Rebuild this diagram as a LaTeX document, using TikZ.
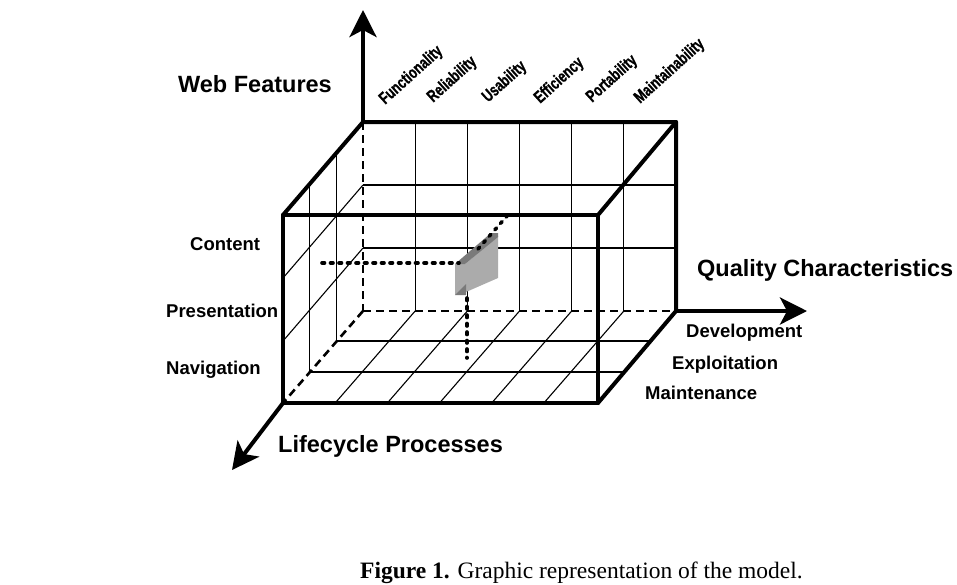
\documentclass[tikz,border=0pt]{standalone}
\usepackage{fontspec}
\setmainfont{Liberation Sans}
\newfontfamily\capfont{Liberation Serif}
\newfontfamily\colfont[BoldFeatures={FakeBold=1.2}]{Liberation Sans}
\usetikzlibrary{arrows.meta}
\newcommand\narrowtxt[1]{\scalebox{0.74}[1]{#1}}
\begin{document}
\begin{tikzpicture}[x=1pt,y=-1pt,
  thickedge/.style={line width=4pt, line cap=round, line join=round},
  dashedge/.style={line width=2.6pt, dash pattern=on 8pt off 5pt},
  gridline/.style={line width=1.1pt},
  axis/.style={line width=4pt, -{Stealth[length=27pt,width=27pt,inset=7pt]}},
  coordline/.style={line width=3.6pt, dash pattern=on 2.5pt off 6pt, line cap=round},
  biglabel/.style={font=\fontsize{23.5}{28}\selectfont\bfseries, inner sep=0pt},
  sidelabel/.style={font=\fontsize{18.5}{22}\selectfont\bfseries, inner sep=0pt, anchor=base west},
  collabel/.style={font=\colfont\fontsize{17}{20}\selectfont\bfseries, inner sep=0pt, rotate=42, anchor=base west},
  lightcell/.style={fill=black!33, draw=none},
  darkcell/.style={fill=black!52, draw=none},
]
\useasboundingbox (0,0) rectangle (957,584);
% box corners
\coordinate (FTL) at (283,215);
\coordinate (FTR) at (598,215);
\coordinate (FBL) at (283,403);
\coordinate (FBR) at (598,403);
\coordinate (BTL) at (363,122);
\coordinate (BTR) at (676,122);
\coordinate (BBL) at (363,311);
\coordinate (BBR) at (676,311);
% axis ends
\coordinate (WebTip) at (363,10);
\coordinate (QualTip) at (807,311);
\coordinate (LifeTip) at (232,470);

% back face grid
\foreach \k in {1,...,5}{
  \pgfmathsetmacro{\xx}{363+\k*52.17}
  \draw[gridline] (\xx,122) -- (\xx,311);
  \draw[gridline] (\xx,311) -- (\xx-80,403);
}
\draw[gridline] (363,185) -- (676,185);
\draw[gridline] (363,248) -- (676,248);
% left wall grid
\draw[gridline] (363,185) -- (283,278);
\draw[gridline] (363,248) -- (283,341);
\draw[gridline] (309.7,184) -- (309.7,372);
\draw[gridline] (336.3,153) -- (336.3,341);
% floor depth lines
\draw[gridline] (309.7,372) -- (624.7,372);
\draw[gridline] (336.3,341) -- (651.3,341);

% hidden edges
\draw[dashedge] (BTL) -- (BBL);
\draw[dashedge] (BBL) -- (BBR);
\draw[dashedge] (BBL) -- (FBL);

% visible edges
\draw[thickedge] (FTL) -- (FTR) -- (FBR) -- (FBL) -- cycle;
\draw[thickedge] (FTL) -- (BTL) -- (BTR) -- (BBR);
\draw[thickedge] (FTR) -- (BTR);
\draw[thickedge] (FBR) -- (BBR);

% axes
\draw[axis] (BTL) -- (WebTip);
\draw[axis] (BBR) -- (QualTip);
\draw[axis] (FBL) -- (LifeTip);

% highlighted cell
\fill[lightcell] (455,264) -- (465,264) -- (498,236) -- (498,278) -- (466,292) -- (455,295) -- cycle;
\fill[darkcell] (455,264) -- (465,264) -- (498,237) -- (498,233) -- (491,233) -- cycle;
\fill[darkcell] (455,295) -- (466,284) -- (466,295) -- cycle;

% coordinate lines
\coordinate (HL0) at (322,263);
\coordinate (HL1) at (459,263);
\coordinate (VL0) at (467,298);
\coordinate (VL1) at (467,358);
\coordinate (DL0) at (478,249);
\coordinate (DL1) at (507,216);
\draw[coordline] (HL0) -- (HL1);
\draw[coordline] (VL0) -- (VL1);
\draw[coordline] (DL0) -- (DL1);

% labels
\node[biglabel, anchor=base east] (web) at (332,92) {Web Features};
\node[biglabel, anchor=base west] (qual) at (697,276) {Quality Characteristics};
\node[biglabel, anchor=base west] (life) at (278,452) {Lifecycle Processes};

\node[sidelabel] (content) at (190,250) {Content};
\node[sidelabel] (present) at (166,317) {Presentation};
\node[sidelabel] (navig) at (166,374) {Navigation};

\node[sidelabel] (devel) at (686,337) {Development};
\node[sidelabel] (exploit) at (672,369) {Exploitation};
\node[sidelabel] (maint) at (645,399) {Maintenance};

\node[collabel] (c1) at (385,105) {\narrowtxt{Functionality}};
\node[collabel] (c2) at (433,103) {\narrowtxt{Reliability}};
\node[collabel] (c3) at (488,103) {\narrowtxt{Usability}};
\node[collabel] (c4) at (540,104) {\narrowtxt{Efficiency}};
\node[collabel] (c5) at (592,103) {\narrowtxt{Portability}};
\node[collabel] (c6) at (640,104) {\narrowtxt{Maintainability}};

\node[inner sep=0pt, anchor=base east, font=\capfont\fontsize{23.5}{28}\selectfont] (caption) at (803,578)
  {{\bfseries Figure 1.} Graphic representation of the model.};
\end{tikzpicture}
\end{document}
